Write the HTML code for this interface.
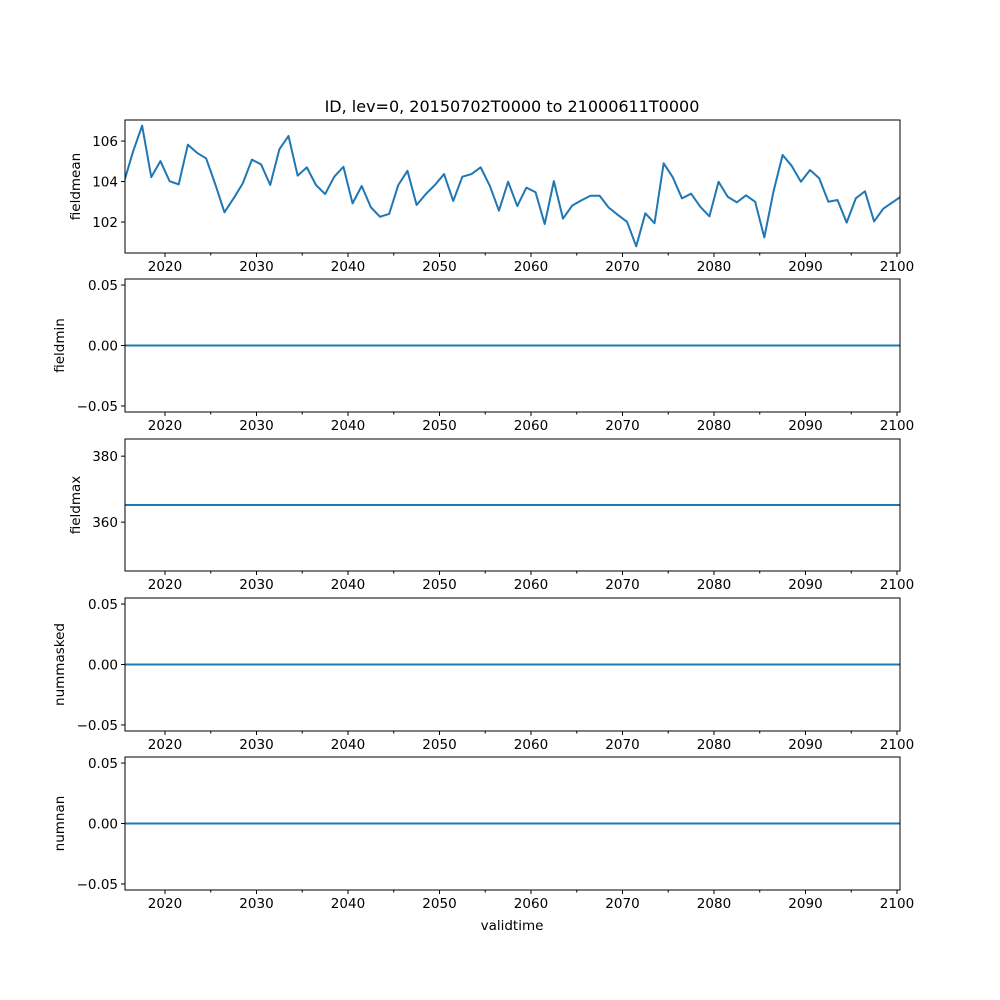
<!DOCTYPE html>
<html><head><meta charset="utf-8"><style>
body{margin:0;background:#fff}
svg{display:block;font-family:"DejaVu Sans","Liberation Sans",sans-serif}
</style></head><body>
<svg id="fig" width="1000" height="1000" viewBox="0 0 1000 1000">
<rect width="1000" height="1000" fill="#fff"/>
<text x="512" y="112" font-size="16" text-anchor="middle">ID, lev=0, 20150702T0000 to 21000611T0000</text>
<text x="512" y="930" font-size="13.5" text-anchor="middle">validtime</text>
</svg>
<script>
const years = [];
for (let y = 2015.5; y <= 2100.6; y += 1) years.push(y);
const fieldmean = [103.94,105.47,106.76,104.22,105.01,104.02,103.86,105.82,105.42,105.14,
103.86,102.48,103.17,103.91,105.08,104.85,103.83,105.59,106.25,104.29,
104.70,103.83,103.38,104.24,104.73,102.92,103.78,102.73,102.26,102.40,
103.83,104.53,102.84,103.38,103.83,104.37,103.04,104.24,104.37,104.70,
103.79,102.56,103.99,102.79,103.70,103.47,101.90,104.02,102.17,102.81,
103.07,103.30,103.30,102.71,102.35,102.01,100.80,102.43,
101.94,104.90,104.21,103.17,103.40,102.76,102.28,103.99,103.25,102.97,
103.32,103.00,101.24,103.50,105.31,104.77,103.99,104.57,104.16,103.00,
103.09,101.97,103.17,103.52,102.03,102.66,102.97,103.28];
const fieldminVal = 0, fieldmaxVal = 365.2, nummaskedVal = 0, numnanVal = 0;
const xTicks = [2020,2030,2040,2050,2060,2070,2080,2090,2100];
const xMinor = [2025,2035,2045,2055,2065,2075,2085,2095];
const ticksMean = [102,104,106];
const ticksSmall = [-0.05,0.00,0.05];
const ticksMax = [360,380];

const NS = "http://www.w3.org/2000/svg";
const svg = document.getElementById('fig');
const L = 125, R = 900, X0 = 2015.63, X1 = 2100.33;
const sx = v => L + (v - X0) / (X1 - X0) * (R - L);
function el(tag, attrs, parent) {
  const e = document.createElementNS(NS, tag);
  for (const k in attrs) e.setAttribute(k, attrs[k]);
  (parent || svg).appendChild(e);
  return e;
}
const panels = [
  {name:'fieldmean', top:120, bot:253, y0:100.47, y1:107.04, ticks:ticksMean, fmt:v=>String(v), vals:fieldmean},
  {name:'fieldmin', top:279, bot:412, y0:-0.055, y1:0.055, ticks:ticksSmall, fmt:v=>v.toFixed(2).replace('-','\u2212'), vals:years.map(()=>fieldminVal)},
  {name:'fieldmax', top:439, bot:571, y0:345.2, y1:385.2, ticks:ticksMax, fmt:v=>String(v), vals:years.map(()=>fieldmaxVal)},
  {name:'nummasked', top:598, bot:731, y0:-0.055, y1:0.055, ticks:ticksSmall, fmt:v=>v.toFixed(2).replace('-','\u2212'), vals:years.map(()=>nummaskedVal)},
  {name:'numnan', top:757, bot:890, y0:-0.055, y1:0.055, ticks:ticksSmall, fmt:v=>v.toFixed(2).replace('-','\u2212'), vals:years.map(()=>numnanVal)}
];
panels.forEach((p, idx) => {
  const g = el('g', {});
  
  
  const sy = v => p.bot - (v - p.y0) / (p.y1 - p.y0) * (p.bot - p.top);
  const cid = 'clip' + idx;
  const cp = el('clipPath', {id: cid}, g);
  el('rect', {x: L, y: p.top, width: R - L, height: p.bot - p.top}, cp);
  const d = p.vals.map((v, i) => (i ? 'L' : 'M') + sx(years[i]).toFixed(2) + ' ' + sy(v).toFixed(2)).join(' ');
  const line = el('path', {d, fill:'none', stroke:'#1f77b4', 'stroke-width':2, 'stroke-linejoin':'round', 'clip-path':'url(#' + cid + ')'}, g);
  
  
  const frame = el('rect', {x: L, y: p.top, width: R - L, height: p.bot - p.top, fill:'none', stroke:'#000', 'stroke-width':1}, g);
  
  
  p.ticks.forEach(t => {
    const y = sy(t);
    el('line', {x1: L - 4, x2: L, y1: y, y2: y, stroke:'#000', 'stroke-width':1}, g);
    const tx = el('text', {x: L - 7, y: y + 5, 'font-size':13.5, 'text-anchor':'end'}, g);
    tx.textContent = p.fmt(t);
    
    
  });
  xTicks.forEach(t => {
    const x = sx(t);
    el('line', {x1: x, x2: x, y1: p.bot, y2: p.bot + 4, stroke:'#000', 'stroke-width':1}, g);
    const tx = el('text', {x: x, y: p.bot + 18, 'font-size':13.5, 'text-anchor':'middle'}, g);
    tx.textContent = String(t);
    
    
  });
  xMinor.forEach(t => {
    const x = sx(t);
    el('line', {x1: x, x2: x, y1: p.bot, y2: p.bot + 2.5, stroke:'#000', 'stroke-width':1}, g);
  });
  const lx = idx === 0 ? 80 : idx === 2 ? 80 : 64;
  const cy = (p.top + p.bot) / 2;
  const yl = el('text', {x: lx, y: cy, 'font-size':13.5, 'text-anchor':'middle', transform:'rotate(-90 ' + lx + ' ' + cy + ')'}, g);
  yl.textContent = p.name;
  
  
});
</script>
</body></html>
